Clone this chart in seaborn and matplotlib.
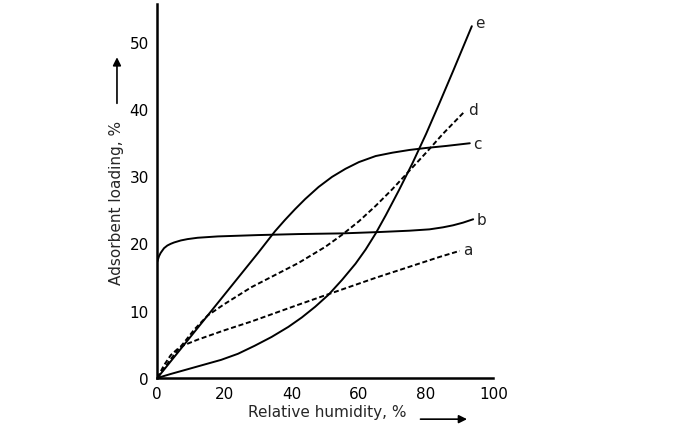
import matplotlib
matplotlib.use("Agg")
import matplotlib.pyplot as plt
import seaborn as sns
import pandas as pd

# ---- data ----
a_x = [0, 2, 4, 6, 8, 12, 20, 28, 42, 50, 65, 84, 90]
a_y = [0, 1.9, 3.4, 4.3, 4.9, 5.7, 7.1, 8.4, 10.9, 12.3, 14.9, 18.0, 18.9]

b_x = [0, 0.5, 1, 2, 3, 4, 5, 7, 9, 12, 18, 30, 42, 55, 66, 75, 81, 85, 88, 91, 94]
b_y = [17.3, 18.1, 18.6, 19.3, 19.7, 19.95, 20.15, 20.45, 20.65, 20.85, 21.05, 21.25, 21.4,
       21.5, 21.7, 21.9, 22.1, 22.4, 22.7, 23.1, 23.6]

c_x = [0, 10, 20, 30, 35, 38, 41, 44, 48, 52, 56, 60, 65, 70, 75, 80, 86, 93]
c_y = [0, 6.2, 12.4, 18.6, 21.8, 23.5, 25.1, 26.6, 28.4, 29.9, 31.1, 32.1, 33.0, 33.5, 33.9,
       34.2, 34.5, 34.9]

d_x = [0, 2, 4, 6, 8, 11, 15, 20, 28, 35, 42, 50, 55, 60, 65, 70, 75, 80, 85, 91.6]
d_y = [0, 1.4, 2.8, 4.1, 5.3, 7.2, 9.3, 11.0, 13.5, 15.3, 17.1, 19.5, 21.3, 23.3, 25.6, 28.1,
       30.8, 33.5, 36.3, 39.7]

e_x = [0, 4, 9, 14, 19, 24, 29, 34, 39, 43, 47, 51, 55, 59, 62, 65, 68, 72, 76, 80, 84, 88, 93.6]
e_y = [0, 0.6, 1.3, 2.0, 2.7, 3.6, 4.8, 6.1, 7.6, 9.0, 10.6, 12.4, 14.6, 17.0, 19.1, 21.5,
       24.2, 28.0, 32.0, 36.3, 40.9, 45.6, 52.3]

curve_names = ["a", "b", "c", "d", "e"]
x_ticks = [0, 20, 40, 60, 80, 100]
y_ticks = [0, 10, 20, 30, 40, 50]
x_label = "Relative humidity, %"
y_label = "Adsorbent loading, %"

sns.set_style("white")
plt.rcParams["font.family"] = ["DejaVu Sans"]

fig = plt.figure(figsize=(6.96, 4.35), dpi=100)
ax = fig.add_axes([0.226, 0.1287, 0.4828, 0.8598])

curves = {"a": (a_x, a_y, True), "b": (b_x, b_y, False), "c": (c_x, c_y, False),
          "d": (d_x, d_y, True), "e": (e_x, e_y, False)}
label_offsets = {"a": (2.5, 1), "b": (2.5, 0), "c": (2.5, 0), "d": (2.5, 1), "e": (2.5, 3)}

for name in curve_names:
    xs, ys, dashed = curves[name]
    df = pd.DataFrame({"x": xs, "y": ys})
    ls = (0, (2.6, 1.4)) if dashed else "-"
    sns.lineplot(data=df, x="x", y="y", ax=ax, color="black", linewidth=1.4,
                 linestyle=ls, sort=False, estimator=None)
    ax.annotate(name, xy=(xs[-1], ys[-1]), xytext=label_offsets[name], textcoords="offset points",
                ha="left", va="center", fontsize=11, color="#222222")

ax.set_xlim(0, 100)
ax.set_ylim(0, 55.6)
ax.set_xticks(x_ticks)
ax.set_yticks(y_ticks)
ax.tick_params(direction="in", length=6, width=1.4, labelsize=11, pad=6, colors="black")
for s in ["top", "right"]:
    ax.spines[s].set_visible(False)
for s in ["left", "bottom"]:
    ax.spines[s].set_linewidth(1.8)
    ax.spines[s].set_color("black")

ax.set_xlabel(x_label, fontsize=11, va="top")
ax.xaxis.set_label_coords(0.505, -0.07)
ax.set_ylabel(y_label, fontsize=11, va="center")
ax.yaxis.set_label_coords(-0.12, 0.472)

ax.annotate("", xy=(0.930, -0.110), xytext=(0.775, -0.110), xycoords="axes fraction",
            arrowprops=dict(arrowstyle="-|>", color="black", lw=1.2, mutation_scale=12),
            annotation_clip=False)
ax.annotate("", xy=(-0.12, 0.865), xytext=(-0.12, 0.727), xycoords="axes fraction",
            arrowprops=dict(arrowstyle="-|>", color="black", lw=1.2, mutation_scale=12),
            annotation_clip=False)

fig.savefig("out.png", dpi=100, facecolor="white")
